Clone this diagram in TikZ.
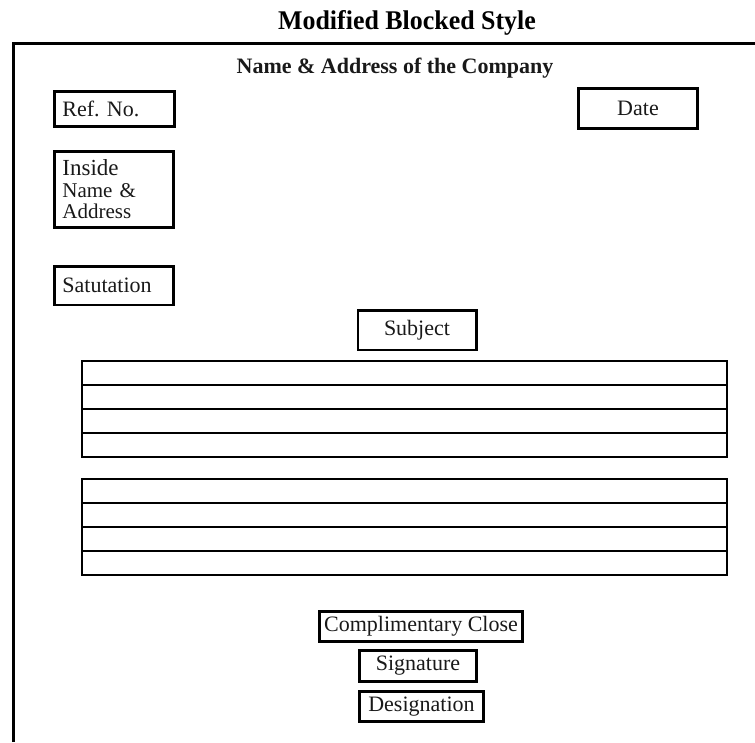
\documentclass[tikz,border=0pt]{standalone}
\usepackage{fontspec}
\setmainfont{Liberation Serif}
\newfontfamily\titlefont[FakeStretch=0.96]{Liberation Serif}
\frenchspacing
\begin{document}
\begin{tikzpicture}[x=1pt,y=-1pt,
  frame/.style={line width=3pt},
  box/.style={draw, line width=2.8pt, inner sep=0pt, font=\fontsize{22}{24}\selectfont, text=black!90},
  leftbox/.style={box, align=left, inner xsep=8pt, inner ysep=0pt},
  rule/.style={line width=2.3pt}]
\useasboundingbox (0,0) rectangle (755,742);
% outer frame
\draw[frame] (13,742) -- (13,43) -- (755,43);
% headings
\node (title) at (407,29) [anchor=base, font=\titlefont\bfseries\fontsize{27}{30}\selectfont] {Modified Blocked Style};
\node (company) at (395,73) [anchor=base, font=\bfseries\fontsize{22}{24}\selectfont, text=black!90] {Name \& Address of the Company};
% left column boxes
\node (ref) at (114.5,109) [leftbox, text width=104.2pt, minimum height=35.2pt] {Ref.\ No.};
\node (inside) at (114,189.5) [leftbox, text width=103.2pt, minimum height=76.2pt, font=\fontsize{21}{21.5}\selectfont] {{\fontsize{23}{21.5}\selectfont Inside}\\Name \&\\Address};
\node (salut) at (114,285.75) [leftbox, text width=103.2pt, minimum height=38.6pt] {Satutation};
% right / centre boxes
\node (date) at (638,108.5) [box, minimum width=119.2pt, minimum height=40.2pt] {Date};
\node (subject) at (417,330.25) [box, minimum width=118.2pt, minimum height=39.6pt] {Subject};
% body paragraphs
\draw[rule] (82,361) rectangle (727,457);
\foreach \y in {385,409,433} \draw[rule] (82,\y) -- (727,\y);
\draw[rule] (82,479) rectangle (727,575);
\foreach \y in {503,527,551} \draw[rule] (82,\y) -- (727,\y);
% closing boxes
\node (close) at (421,626.5) [box, minimum width=203.2pt, minimum height=30.2pt] {Complimentary Close};
\node (sign) at (418,666) [box, minimum width=117.2pt, minimum height=31.2pt] {Signature};
\node (desig) at (421.5,706.5) [box, minimum width=124.2pt, minimum height=30.2pt] {Designation};
\end{tikzpicture}
\end{document}
